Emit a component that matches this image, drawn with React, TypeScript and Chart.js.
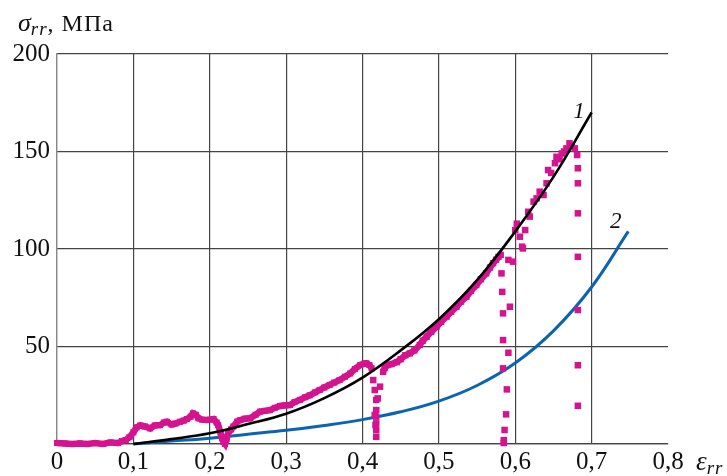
import React, { useEffect, useRef } from "react";
import { Chart, registerables } from "chart.js";

Chart.register(...registerables);

// Curve 1 (black) – model
const curve1Strain = [0.1, 0.15, 0.2, 0.25, 0.3, 0.35, 0.4, 0.45, 0.5, 0.55, 0.6, 0.65, 0.7];
const curve1Stress = [0, 2.5, 5.5, 10.2, 15.5, 23.5, 34, 48, 64, 84, 109, 137, 170];

// Curve 2 (blue) – model
const curve2Strain = [0.1, 0.15, 0.2, 0.25, 0.3, 0.35, 0.4, 0.45, 0.5, 0.55, 0.6, 0.65, 0.7, 0.748];
const curve2Stress = [0, 1.5, 3, 5, 7, 9.5, 12.5, 16.5, 22, 30, 41.5, 58, 80.5, 109];

// Experiment (magenta) – continuous segment 1
const expSeg1Strain = [0.0, 0.01, 0.02, 0.03, 0.04, 0.05, 0.06, 0.07, 0.08, 0.085, 0.09, 0.095, 0.1, 0.104, 0.109, 0.115, 0.122, 0.128, 0.135, 0.14, 0.144, 0.15, 0.155, 0.161, 0.166, 0.17, 0.175, 0.178, 0.182, 0.185, 0.19, 0.196, 0.2, 0.205, 0.209, 0.211, 0.214, 0.216, 0.218, 0.22, 0.222, 0.224, 0.228, 0.231, 0.236, 0.24, 0.246, 0.253, 0.26, 0.266, 0.272, 0.279, 0.285, 0.292, 0.298, 0.305, 0.311, 0.318, 0.325, 0.331, 0.338, 0.344, 0.35, 0.357, 0.363, 0.37, 0.377, 0.384, 0.39, 0.397, 0.402, 0.405, 0.409, 0.412];
const expSeg1Stress = [0.5, 0.3, 0, 0.3, 0, 0.5, 0, 0.8, 0.5, 1.5, 2, 3.5, 6, 8.5, 9.5, 9, 8, 9.5, 9.7, 11, 11.4, 10, 10.5, 11.4, 12, 12.8, 14, 15.7, 15, 13.2, 12.5, 12.3, 12.5, 12.8, 11, 9.7, 6, 3, 1, 0, 2.5, 5.5, 7.5, 9, 11.5, 12.3, 13, 13.2, 15, 16.6, 17, 17.4, 18.5, 19.5, 19.8, 20, 21.5, 22.6, 24, 25, 26.5, 27.7, 29, 30.3, 31.5, 32.8, 34.5, 36.2, 38.5, 40.5, 41.2, 41.4, 40.5, 38.8];

// Experiment (magenta) – continuous segment 2
const expSeg2Strain = [0.427, 0.429, 0.433, 0.438, 0.445, 0.45, 0.456, 0.462, 0.468, 0.475, 0.479, 0.484, 0.49, 0.497, 0.503, 0.51, 0.516, 0.523, 0.529, 0.536, 0.542, 0.549, 0.555, 0.562, 0.567, 0.571, 0.575, 0.578, 0.581];
const expSeg2Stress = [37, 39, 40.5, 41, 42, 43.5, 45.5, 46.5, 48, 50.8, 53, 55, 57.5, 60.2, 62.7, 65.3, 67.8, 70.4, 73, 75.5, 78.5, 81.5, 84.5, 87.5, 90.5, 92.7, 94.5, 96, 97];

// Experiment (magenta) – separate points (unloading drops and last segment)
const expDotsStrain = [0.414, 0.416, 0.418, 0.42, 0.423, 0.418, 0.416, 0.418, 0.417, 0.418, 0.418, 0.418,
  0.582, 0.583, 0.584, 0.593, 0.584, 0.591, 0.584, 0.589, 0.588, 0.586, 0.585, 0.585,
  0.591, 0.597, 0.606, 0.609, 0.6, 0.602, 0.613, 0.61, 0.617, 0.619, 0.624, 0.628, 0.632, 0.637, 0.641, 0.643, 0.647, 0.652, 0.654, 0.658, 0.661, 0.664, 0.667, 0.671, 0.674, 0.678, 0.681,
  0.682, 0.682, 0.682, 0.682, 0.682, 0.682, 0.682];
const expDotsStress = [32.8, 27.7, 22.6, 23.4, 29.4, 17.4, 14.9, 14, 9.7, 10.6, 7.2, 3.7,
  87.5, 78, 67, 70.4, 53.3, 46.8, 38.8, 28, 15.2, 7.2, 2, 0.5,
  94.4, 93.5, 106.3, 101.2, 109.7, 113, 109.7, 100.3, 119.1, 116.6, 124.3, 126, 129.4, 127.7, 133.7, 140.5, 139, 144, 147.3, 146, 149, 150, 151.6, 154.2, 153, 151.6, 148.2,
  141.4, 133.7, 118.3, 96, 68.7, 40.4, 19.6];

// Tick labels
const xTickLabels = ["0", "0,1", "0,2", "0,3", "0,4", "0,5", "0,6", "0,7", "0,8"];
const yTickLabels = ["", "50", "100", "150", "200"];

// Curve labels
const curveLabelText = ["1", "2"];
const curveLabelStrain = [0.676, 0.724];
const curveLabelStress = [167, 111];

const MAGENTA = "#d6138f";
const BLUE = "#0b64b2";
const GRID = "#454545";
const SERIF = "'Liberation Serif', 'DejaVu Serif', serif";

const toXY = (xs: number[], ys: number[]) => xs.map((x, i) => ({ x, y: ys[i] }));

const textPlugin = {
  id: "texts",
  afterDatasetsDraw(chart: any) {
    const { ctx, scales } = chart;
    const xs = scales.x;
    const ys = scales.y;
    ctx.save();
    ctx.fillStyle = "#111";
    ctx.textBaseline = "alphabetic";
    ctx.textAlign = "left";
    // curve labels
    ctx.font = `italic 23px ${SERIF}`;
    curveLabelText.forEach((t, i) => {
      ctx.fillText(t, xs.getPixelForValue(curveLabelStrain[i]), ys.getPixelForValue(curveLabelStress[i]));
    });
    // y axis title
    let x = 18;
    const base = 31;
    ctx.font = `italic 26px ${SERIF}`;
    ctx.fillText("σ", x, base);
    x += ctx.measureText("σ").width;
    ctx.font = `italic 19px ${SERIF}`;
    (ctx as any).letterSpacing = "1px";
    ctx.fillText("rr", x, base + 4);
    x += ctx.measureText("rr").width;
    ctx.font = `24px ${SERIF}`;
    (ctx as any).letterSpacing = "1px";
    ctx.fillText(", МПа", x, base);
    (ctx as any).letterSpacing = "0px";
    // x axis title
    x = xs.right + 28;
    const base2 = 470;
    ctx.font = `italic 27px ${SERIF}`;
    ctx.fillText("ε", x, base2);
    x += ctx.measureText("ε").width;
    ctx.font = `italic 19px ${SERIF}`;
    (ctx as any).letterSpacing = "1px";
    ctx.fillText("rr", x, base2 + 4);
    ctx.restore();
  },
};

export default function App() {
  const ref = useRef<HTMLCanvasElement | null>(null);
  useEffect(() => {
    if (!ref.current) return;
    const chart = new Chart(ref.current, {
      type: "scatter",
      data: {
        datasets: [
          {
            label: "1",
            data: toXY(curve1Strain, curve1Stress),
            showLine: true,
            borderColor: "#000",
            borderWidth: 2.6,
            pointRadius: 0,
            tension: 0.4,
            clip: false,
          },
          {
            label: "exp1",
            data: toXY(expSeg1Strain, expSeg1Stress),
            showLine: true,
            borderColor: MAGENTA,
            backgroundColor: MAGENTA,
            borderWidth: 6.5,
            pointStyle: "rect",
            pointRadius: 4.3,
            pointBorderWidth: 0,
            clip: false,
          },
          {
            label: "exp2",
            data: toXY(expSeg2Strain, expSeg2Stress),
            showLine: true,
            borderColor: MAGENTA,
            backgroundColor: MAGENTA,
            borderWidth: 6.5,
            pointStyle: "rect",
            pointRadius: 4.5,
            pointBorderWidth: 0,
            clip: false,
          },
          {
            label: "expDots",
            data: toXY(expDotsStrain, expDotsStress),
            showLine: false,
            backgroundColor: MAGENTA,
            borderColor: MAGENTA,
            pointStyle: "rect",
            pointRadius: 4.6,
            pointBorderWidth: 0,
            clip: false,
          },
          {
            label: "2",
            data: toXY(curve2Strain, curve2Stress),
            showLine: true,
            borderColor: BLUE,
            borderWidth: 3,
            pointRadius: 0,
            tension: 0.4,
            clip: false,
          },
        ],
      },
      options: {
        responsive: false,
        animation: false,
        events: [],
        layout: { padding: { top: 54, right: 59, left: 0, bottom: 0 } },
        plugins: { legend: { display: false }, tooltip: { enabled: false } },
        scales: {
          x: {
            type: "linear",
            min: 0,
            max: 0.8,
            afterFit: (s: any) => {
              s.height = 32;
            },
            ticks: {
              stepSize: 0.1,
              autoSkip: false,
              maxRotation: 0,
              padding: 3,
              color: "#111",
              font: { family: SERIF, size: 25 },
              callback: (_v: any, i: number) => xTickLabels[i],
            },
            grid: {
              drawTicks: false,
              color: (c: any) => (c.index === 8 ? "rgba(0,0,0,0)" : GRID),
              lineWidth: 1.2,
            },
            border: { display: true, color: GRID, width: 1.2 },
          },
          y: {
            type: "linear",
            min: 0,
            max: 200,
            afterFit: (s: any) => {
              s.width = 57;
            },
            ticks: {
              stepSize: 50,
              padding: 7,
              color: "#111",
              font: { family: SERIF, size: 25 },
              callback: (_v: any, i: number) => yTickLabels[i],
            },
            grid: { drawTicks: false, color: GRID, lineWidth: 1.2 },
            border: { display: true, color: "#888", width: 1.2 },
          },
        },
      },
      plugins: [textPlugin],
    });
    return () => chart.destroy();
  }, []);
  return (
    <div style={{ position: "fixed", left: 0, top: 0, width: 727, height: 476, background: "#fff" }}>
      <canvas ref={ref} width={727} height={476} style={{ display: "block" }} />
    </div>
  );
}
